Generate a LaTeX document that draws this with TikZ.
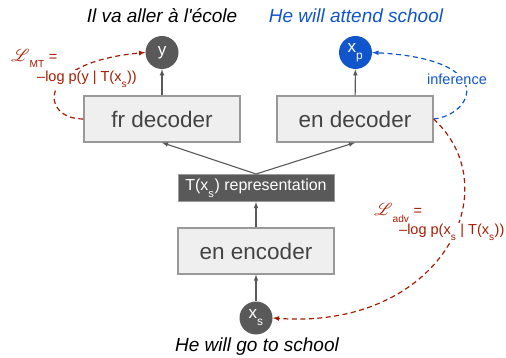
\documentclass[tikz,border=0pt]{standalone}
\usepackage{fontspec}
\setmainfont{Liberation Sans}
\usepackage{mathrsfs}
\usetikzlibrary{arrows}
\definecolor{boxfill}{HTML}{EFEFEF}
\definecolor{boxedge}{HTML}{999999}
\definecolor{dotgray}{HTML}{595959}
\definecolor{labgray}{HTML}{434343}
\definecolor{lossred}{HTML}{A61C00}
\definecolor{infblue}{HTML}{1155CC}
\newcommand{\lowsub}[1]{\raisebox{-.5ex}{\textsubscript{#1}}}
\newcommand{\lossL}{{\fontsize{17}{17}\selectfont$\mathscr{L}$}}

\begin{document}
\begin{tikzpicture}[x=1pt,y=1pt,
  block/.style={draw=boxedge,line width=1.2pt,fill=boxfill,minimum width=156pt,minimum height=46pt,text=labgray,font=\fontsize{22.5}{27}\selectfont},
  repbox/.style={draw=boxedge,line width=1pt,fill=dotgray,minimum width=156pt,minimum height=27pt,text=white,font=\fontsize{16}{19}\selectfont},
  token/.style={circle,fill=dotgray,minimum size=33pt,inner sep=0pt,text=white,font=\fontsize{17}{20}\selectfont},
  flow/.style={draw=dotgray,line width=1.1pt,-latex},
  lossline/.style={draw=lossred,line width=1.2pt,dash pattern=on 5pt off 3.5pt,-latex},
  infline/.style={draw=infblue,line width=1.2pt,dash pattern=on 5pt off 3.5pt,-latex},
  losslab/.style={anchor=west,fill=white,inner sep=1pt,text=lossred,font=\fontsize{14.5}{17}\selectfont},
  sentence/.style={font=\fontsize{19}{23}\selectfont\itshape},
]
\useasboundingbox (0,0) rectangle (506,-358);
% sentences
\node[sentence] (frsent) at (162,-16) {Il va aller à l\textquotesingle école};
\node[sentence,text=infblue] (ensent) at (356,-16) {He will attend school};
\node[sentence] (srcsent) at (257,-347) {He will go to school};
% tokens
\node[token] (yout) at (162,-52.5) {y};
\node[token,fill=infblue] (xp) at (355.5,-52.5) {x\lowsub{p}};
\node[token] (xs) at (256,-318) {x\lowsub{s}};
% blocks
\node[block] (frdec) at (162,-119) {fr decoder};
\node[block] (endec) at (355,-119) {en decoder};
\node[repbox] (rep) at (256,-188) {T(x\lowsub{s}) representation};
\node[block] (enc) at (256,-251) {en encoder};
% forward arrows
\draw[flow] (xs) -- (enc);
\draw[flow] (enc) -- (rep);
\draw[flow] (rep.north) -- (frdec.south);
\draw[flow] (rep.north) -- (endec.south);
\draw[flow] (frdec) -- (yout);
\draw[flow] (endec) -- (xp);
% losses and inference
\draw[lossline] (frdec.west) .. controls +(-44,0) and +(-110,-10) .. (yout.west);
\draw[infline] (endec.east) .. controls +(39,4) and +(128,-7) .. (xp.east);
\draw[lossline] (endec.east) .. controls +(77,-71) and +(167.5,-12) .. (xs.east);
% loss labels
\node[losslab] (lmt) at (10,-58) {\lossL\lowsub{MT} =};
\node[losslab] (lmtval) at (36,-79) {–log p(y | T(x\lowsub{s}))};
\node[losslab,text=infblue,anchor=center] (inf) at (457,-79) {inference};
\node[losslab] (ladv) at (373,-213) {\lossL\lowsub{adv} =};
\node[losslab] (ladvval) at (398,-232) {–log p(x\lowsub{s} | T(x\lowsub{s}))};
\end{tikzpicture}
\end{document}
